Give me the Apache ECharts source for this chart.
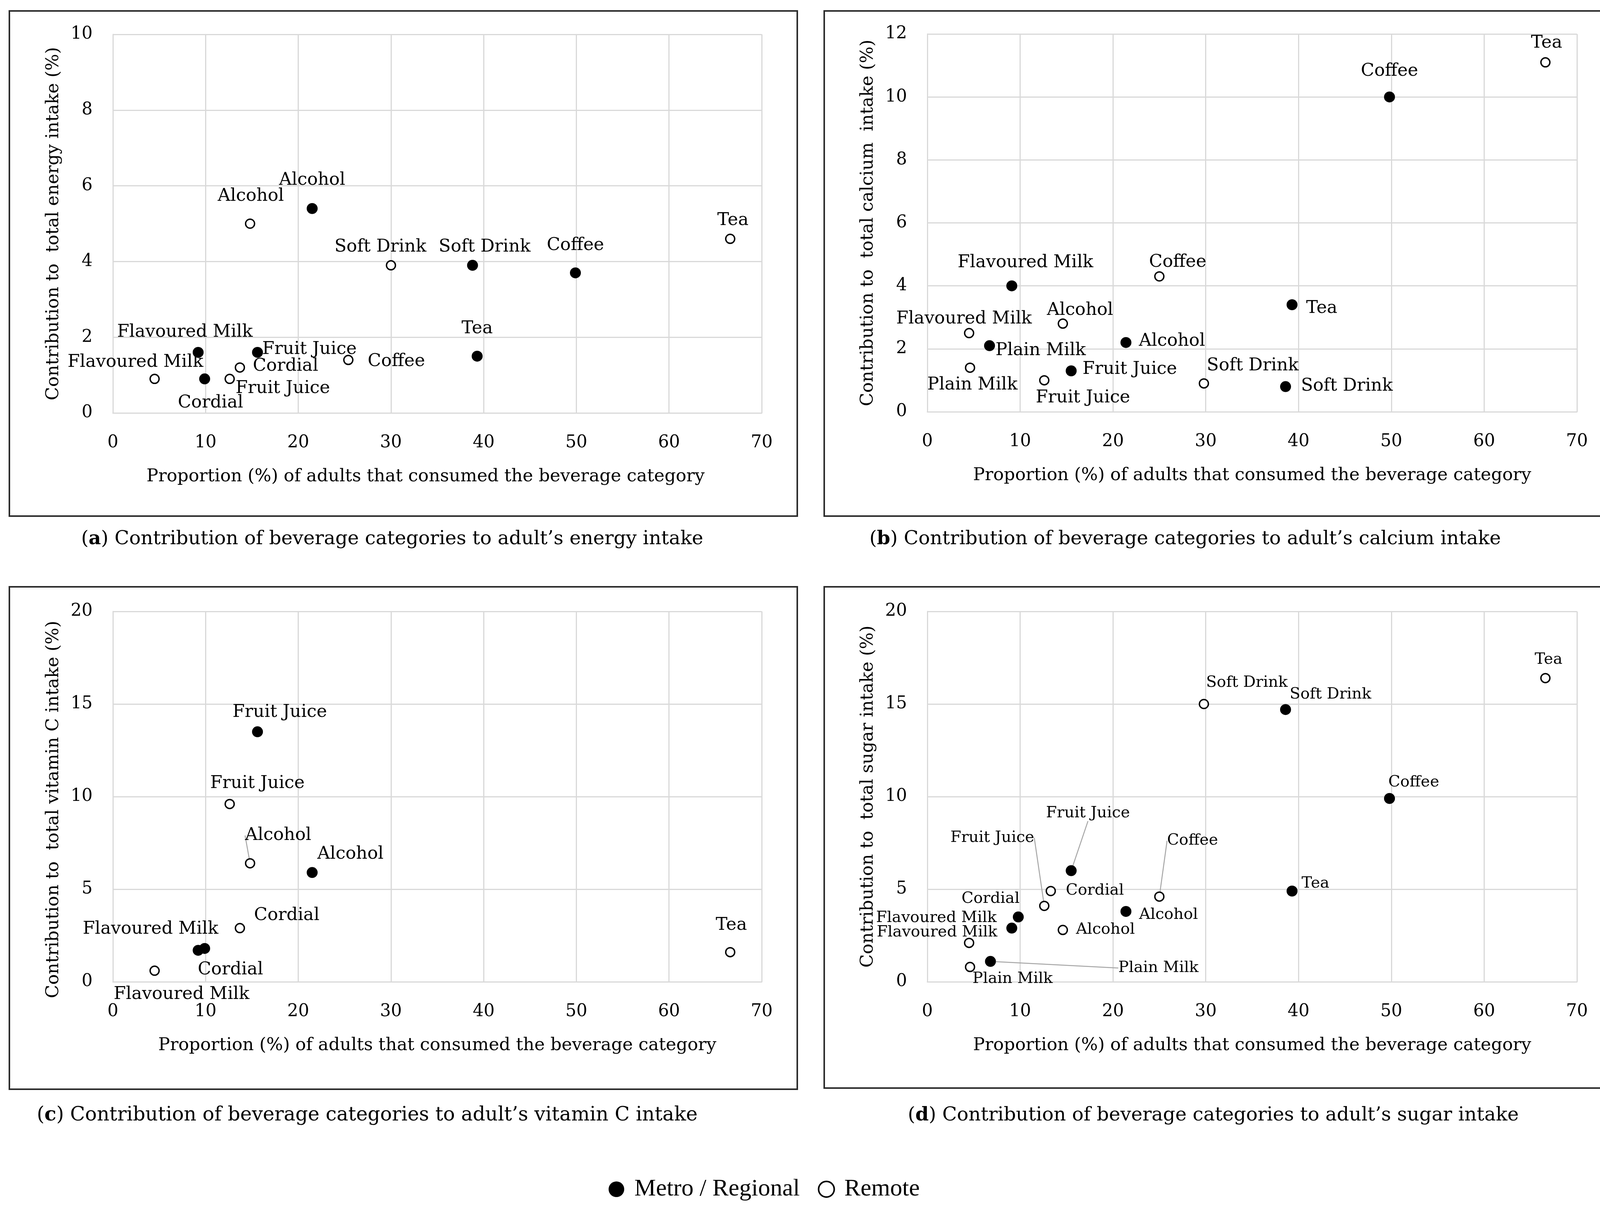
<!DOCTYPE html>
<html><head><meta charset="utf-8">
<script src="https://cdn.jsdelivr.net/npm/echarts@6/dist/echarts.min.js"></script>
<style>html,body{margin:0;padding:0;background:#fff}#c{width:4152px;height:3092px}</style>
</head><body><div id="c"></div>
<script>
// ---- data (x = % of adults consuming, y = contribution %) ----
const xTicks = [0, 10, 20, 30, 40, 50, 60, 70];
const energyMetro = [['Alcohol',21.5,5.4],['Flavoured Milk',9.2,1.6],['Fruit Juice',15.6,1.6],['Cordial',9.9,0.9],['Soft Drink',38.8,3.9],['Coffee',49.9,3.7],['Tea',39.3,1.5]];
const energyRemote = [['Alcohol',14.8,5.0],['Soft Drink',30.0,3.9],['Flavoured Milk',4.5,0.9],['Cordial',13.7,1.2],['Fruit Juice',12.6,0.9],['Coffee',25.4,1.4],['Tea',66.6,4.6]];
const calciumMetro = [['Flavoured Milk',9.1,4.0],['Plain Milk',6.7,2.1],['Alcohol',21.4,2.2],['Fruit Juice',15.5,1.3],['Coffee',49.8,10.0],['Tea',39.3,3.4],['Soft Drink',38.6,0.8]];
const calciumRemote = [['Flavoured Milk',4.5,2.5],['Alcohol',14.6,2.8],['Plain Milk',4.6,1.4],['Fruit Juice',12.6,1.0],['Coffee',25.0,4.3],['Soft Drink',29.8,0.9],['Tea',66.6,11.1]];
const vitaminCMetro = [['Fruit Juice',15.6,13.5],['Alcohol',21.5,5.9],['Flavoured Milk',9.2,1.7],['Cordial',9.9,1.8]];
const vitaminCRemote = [['Fruit Juice',12.6,9.6],['Alcohol',14.8,6.4],['Cordial',13.7,2.9],['Flavoured Milk',4.5,0.6],['Tea',66.6,1.6]];
const sugarMetro = [['Fruit Juice',15.5,6.0],['Cordial',9.8,3.5],['Flavoured Milk',9.1,2.9],['Plain Milk',6.8,1.1],['Alcohol',21.4,3.8],['Soft Drink',38.6,14.7],['Coffee',49.8,9.9],['Tea',39.3,4.9]];
const sugarRemote = [['Cordial',13.3,4.9],['Fruit Juice',12.6,4.1],['Alcohol',14.6,2.8],['Coffee',25.0,4.6],['Flavoured Milk',4.5,2.1],['Plain Milk',4.6,0.8],['Soft Drink',29.8,15.0],['Tea',66.6,16.4]];
const yMax = [10, 12, 20, 20];
const yStep = [2, 2, 5, 5];
const yNames = ['Contribution to  total energy intake (%)','Contribution to  total calcium  intake (%)','Contribution to  total vitamin C intake (%)','Contribution to  total sugar intake (%)'];
const xName = 'Proportion (%) of adults that consumed the beverage category';
const captionLetters = ['a','b','c','d'];
const captionTexts = [' Contribution of beverage categories to adult\u2019s energy intake',' Contribution of beverage categories to adult\u2019s calcium intake',' Contribution of beverage categories to adult\u2019s vitamin C intake',' Contribution of beverage categories to adult\u2019s sugar intake'];
const legendNames = ['Metro / Regional', 'Remote'];

// ---- styling / layout ----
const FONT = 'DejaVu Serif';
const LEGEND_FONT = 'Liberation Serif';
const TXT = '#000';
const grids = [
  {left:289, top:88, width:1661, height:969},
  {left:2374, top:87, width:1663, height:967},
  {left:289, top:1565, width:1661, height:948},
  {left:2374, top:1565, width:1663, height:948}
];
const frames = [[24,28,2017,1293],[2110,28,2018,1293],[24,1502,2017,1286],[2110,1502,2018,1283]];
const captionPos = [[1004,1380],[3034,1380],[940,2855],[3106,2855]];
const labelOffsets = {
  energyMetro: {'Alcohol':[0,-72],'Flavoured Milk':[-34,-52],'Fruit Juice':[133,-8],'Cordial':[15,62],'Soft Drink':[31,-47],'Coffee':[0,-70],'Tea':[0,-70]},
  energyRemote: {'Alcohol':[2,-70],'Soft Drink':[-27,-47],'Flavoured Milk':[-49,-42],'Cordial':[117,-3],'Fruit Juice':[136,25],'Coffee':[123,4],'Tea':[7,-47]},
  calciumMetro: {'Flavoured Milk':[35,-59],'Plain Milk':[131,13],'Alcohol':[118,-3],'Fruit Juice':[150,-4],'Coffee':[0,-66],'Tea':[76,9],'Soft Drink':[157,-1]},
  calciumRemote: {'Flavoured Milk':[-13,-36],'Alcohol':[44,-34],'Plain Milk':[6,44],'Fruit Juice':[99,45],'Coffee':[47,-36],'Soft Drink':[125,-45],'Tea':[3,-49]},
  vitaminCMetro: {'Fruit Juice':[57,-50],'Alcohol':[98,-47],'Flavoured Milk':[-122,-54],'Cordial':[66,55]},
  vitaminCRemote: {'Fruit Juice':[71,-53],'Alcohol':[72,-71],'Cordial':[120,-32],'Flavoured Milk':[69,61],'Tea':[3,-69]},
  sugarMetro: {'Fruit Juice':[43,-147],'Cordial':[-71,-46],'Flavoured Milk':[-193,-26],'Plain Milk':[430,17],'Alcohol':[109,9],'Soft Drink':[115,-39],'Coffee':[62,-41],'Tea':[60,-19]},
  sugarRemote: {'Cordial':[113,-1],'Fruit Juice':[-133,-174],'Alcohol':[109,-1],'Coffee':[85,-143],'Flavoured Milk':[-82,-27],'Plain Milk':[109,31],'Soft Drink':[110,-54],'Tea':[8,-47]}
};
const leaders = new Set(['vitaminCRemote|Alcohol','sugarMetro|Fruit Juice','sugarMetro|Plain Milk','sugarRemote|Fruit Juice','sugarRemote|Coffee']);

function makeSeries(key, arr, isMetro, gi, fs) {
  return {
    type: 'scatter', name: isMetro ? legendNames[0] : legendNames[1],
    xAxisIndex: gi, yAxisIndex: gi, symbol: 'circle',
    symbolSize: isMetro ? 28 : 23,
    itemStyle: isMetro ? {color:'#000', opacity:1} : {color:'#fff', borderColor:'#000', borderWidth:3.5, opacity:1},
    label: {show:true, position:'inside', formatter: p => p.name, color:TXT, fontFamily:FONT, fontSize:fs, textBorderWidth:0},
    labelLayout: p => { const o = labelOffsets[key][arr[p.dataIndex][0]]; return {dx:o[0], dy:o[1]}; },
    labelLine: {show:false},
    emphasis: {disabled:true},
    z: isMetro ? 3 : 2,
    data: arr.map(d => {
      const item = {name:d[0], value:[d[1], d[2]]};
      if (leaders.has(key + '|' + d[0])) item.labelLine = {show:true, lineStyle:{color:'#a6a6a6', width:2.5}};
      return item;
    })
  };
}

const gridLine = {show:true, lineStyle:{color:'#d9d9d9', width:3}};
const xAxes = grids.map((g, i) => ({
  type:'value', gridIndex:i, min:xTicks[0], max:xTicks[xTicks.length-1], interval:10,
  axisLine:{show:true, lineStyle:{color:'#d9d9d9', width:3}}, axisTick:{show:false},
  splitLine:gridLine,
  axisLabel:{color:TXT, fontFamily:FONT, fontSize:44, margin:55},
  name:xName, nameLocation:'middle', nameGap:141,
  nameTextStyle:{color:TXT, fontFamily:FONT, fontSize:45, padding: i === 0 ? [0,60,0,0] : 0}
}));
const yAxes = grids.map((g, i) => ({
  type:'value', gridIndex:i, min:0, max:yMax[i], interval:yStep[i],
  axisLine:{show:true, lineStyle:{color:'#d9d9d9', width:3}}, axisTick:{show:false},
  splitLine:gridLine,
  axisLabel:{color:TXT, fontFamily:FONT, fontSize:44, margin:52},
  name:yNames[i], nameLocation:'middle', nameGap:129,
  nameTextStyle:{color:TXT, fontFamily:FONT, fontSize:45, padding: i === 2 ? [0,66,0,0] : 0}
}));

const graphic = frames.map(f => ({type:'rect', silent:true, z:-10, shape:{x:f[0], y:f[1], width:f[2], height:f[3]}, style:{fill:'none', stroke:'#2b2b2b', lineWidth:4}}));
captionPos.forEach((p, i) => graphic.push({
  type:'text', x:p[0], y:p[1], silent:true,
  style:{text:'({b|' + captionLetters[i] + '})' + captionTexts[i], fill:TXT, fontFamily:FONT, fontSize:i === 2 ? 50 : 49, align:'center', verticalAlign:'middle',
    rich:{b:{fontFamily:FONT, fontSize:i === 2 ? 50 : 49, fontWeight:'bold', fill:TXT}}}
}));

const chart = echarts.init(document.getElementById('c'));
chart.setOption({
  backgroundColor:'#fff', animation:false,
  grid: grids.map(g => Object.assign({outerBoundsMode:'none', containLabel:false}, g)),
  xAxis: xAxes, yAxis: yAxes,
  legend: {left:1553, top:3008, itemWidth:40, itemHeight:40, itemGap:46, selectedMode:false,
    textStyle:{color:TXT, fontFamily:LEGEND_FONT, fontSize:62, padding:[0,0,0,21]},
    data:[{name:legendNames[0], icon:'circle', itemStyle:{color:'#000'}},
          {name:legendNames[1], icon:'circle', itemStyle:{color:'#fff', borderColor:'#000', borderWidth:4}}]},
  graphic: graphic,
  series: [
    makeSeries('energyMetro', energyMetro, true, 0, 45),
    makeSeries('energyRemote', energyRemote, false, 0, 45),
    makeSeries('calciumMetro', calciumMetro, true, 1, 45),
    makeSeries('calciumRemote', calciumRemote, false, 1, 45),
    makeSeries('vitaminCMetro', vitaminCMetro, true, 2, 45),
    makeSeries('vitaminCRemote', vitaminCRemote, false, 2, 45),
    makeSeries('sugarMetro', sugarMetro, true, 3, 40),
    makeSeries('sugarRemote', sugarRemote, false, 3, 40)
  ]
});
</script></body></html>
